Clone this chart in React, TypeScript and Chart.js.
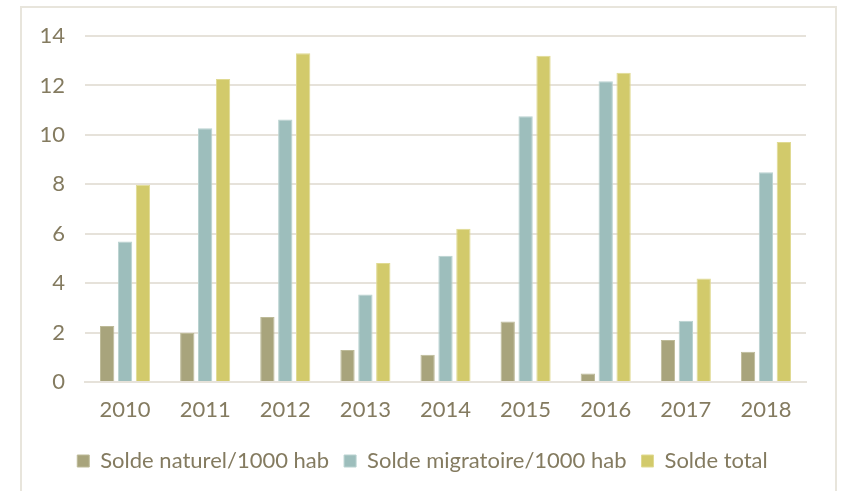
import React, { useEffect, useRef } from "react";
import { Chart, registerables } from "chart.js";

Chart.register(...registerables);

const years = ["2010", "2011", "2012", "2013", "2014", "2015", "2016", "2017", "2018"];
const soldeNaturel = [2.27, 1.98, 2.63, 1.29, 1.1, 2.45, 0.34, 1.7, 1.22];
const soldeMigratoire = [5.69, 10.27, 10.62, 3.54, 5.11, 10.75, 12.17, 2.48, 8.49];
const soldeTotal = [7.98, 12.26, 13.3, 4.82, 6.2, 13.2, 12.51, 4.19, 9.71];
const seriesLabels = ["Solde naturel/1000 hab", "Solde migratoire/1000 hab", "Solde total"];
const yTicks = [0, 2, 4, 6, 8, 10, 12, 14];

const TEXT = "#847B60";
const GRID = "#E6E2DA";
const FONT = "Lato, sans-serif";

const shiftLegend = {
  id: "shiftLegend",
  afterLayout(chart: any) {
    const lg = chart.legend;
    if (lg) {
      lg.left += 9;
      lg.right += 9;
    }
  },
};

export default function App() {
  const ref = useRef<HTMLCanvasElement | null>(null);
  useEffect(() => {
    if (!ref.current) return;
    const colors = ["#A8A47C", "#9DBEBC", "#D2CA6B"];
    const borders = ["#BDBA98", "#B9D2D0", "#E0DA92"];
    const data = [soldeNaturel, soldeMigratoire, soldeTotal];
    const chart = new Chart(ref.current, {
      type: "bar",
      data: {
        labels: years,
        datasets: seriesLabels.map((l, i) => ({
          label: l,
          data: data[i],
          backgroundColor: colors[i],
          borderColor: borders[i],
          borderWidth: 1,
          categoryPercentage: 0.67,
          barPercentage: 0.8,
        })),
      },
      plugins: [shiftLegend],
      options: {
        animation: false,
        responsive: false,
        devicePixelRatio: 1,
        layout: { padding: { left: 21, right: 38, top: 36, bottom: 9 } },
        plugins: {
          tooltip: { enabled: false },
          legend: {
            position: "bottom",
            labels: {
              boxWidth: 12,
              boxHeight: 12,
              padding: 15,
              color: TEXT,
              font: { family: FONT, size: 22 },
            },
          },
        },
        scales: {
          x: {
            grid: { display: false, drawTicks: false },
            border: { display: true, color: GRID, width: 2 },
            ticks: { color: TEXT, font: { family: FONT, size: 22 }, padding: 15 },
            afterFit: (s: any) => {
              s.height = 53;
            },
          },
          y: {
            min: 0,
            max: 14,
            afterBuildTicks: (s: any) => {
              s.ticks = yTicks.map((v) => ({ value: v }));
            },
            grid: { color: GRID, lineWidth: 2, drawTicks: false },
            border: { display: false },
            ticks: { color: TEXT, font: { family: FONT, size: 22 }, padding: 20 },
            afterFit: (s: any) => {
              s.width = 64;
            },
          },
        },
      },
    });
    return () => chart.destroy();
  }, []);
  return (
    <div style={{ position: "fixed", left: 0, top: 0, width: 844, height: 491, background: "#fff", overflow: "hidden" }}>
      <div
        style={{
          position: "absolute",
          left: 20,
          top: 6,
          width: 817,
          height: 520,
          border: "2px solid #E8E5DC",
          boxSizing: "border-box",
        }}
      />
      <canvas ref={ref} width={844} height={491} style={{ position: "absolute", left: 0, top: 0 }} />
    </div>
  );
}
